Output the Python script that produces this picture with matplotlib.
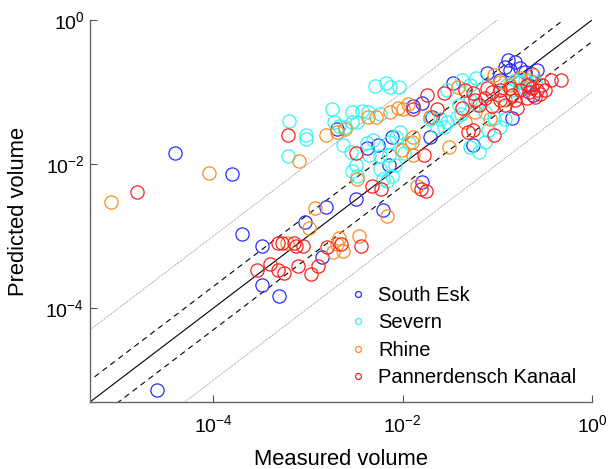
import numpy as np
import matplotlib
matplotlib.use('Agg')
import matplotlib.pyplot as plt
from matplotlib.ticker import FixedLocator, NullLocator

plt.rcParams['font.family'] = ['Liberation Sans', 'DejaVu Sans']
plt.rcParams['mathtext.fontset'] = 'custom'
plt.rcParams['mathtext.rm'] = 'Liberation Sans'
plt.rcParams['mathtext.it'] = 'Liberation Sans:italic'
plt.rcParams['mathtext.bf'] = 'Liberation Sans:bold'

# ---- data: log10 of measured / predicted volume ----
south_esk_log_measured = [-4.40, -3.80, -3.70, -3.48, -3.49, -3.31, -4.59, -3.03, -2.85, -2.81,
                          -2.49, -2.21, -1.79, -2.69, -2.38, -2.26, -2.11, -2.14, -1.71, -1.69,
                          -1.80, -1.89, -1.47, -1.26, -0.85, -1.11, -0.92, -0.87, -0.76, -0.71,
                          -0.63, -0.89, -0.81, -0.58, -0.97, -0.66, -0.62]
south_esk_log_predicted = [-1.85, -2.14, -2.97, -3.14, -3.68, -3.83, -5.13, -2.81, -3.29, -2.60,
                           -2.49, -2.63, -2.25, -1.51, -1.77, -1.73, -1.62, -2.01, -1.62, -1.34,
                           -1.15, -1.20, -0.87, -1.73, -1.36, -0.73, -0.65, -0.69, -0.66, -0.72,
                           -0.75, -0.55, -0.58, -0.69, -0.83, -0.90, -1.04]

severn_log_measured = [-2.29, -2.18, -2.13, -2.04, -3.20, -3.02, -3.02, -3.21, -2.75, -2.72,
                       -2.67, -2.61, -2.53, -2.43, -2.37, -2.53, -2.48, -2.24, -2.63, -2.54,
                       -2.49, -2.53, -2.48, -2.38, -2.31, -2.14, -2.07, -2.35, -2.24, -2.14,
                       -1.98, -1.93, -2.21, -2.17, -2.11, -1.53, -1.37, -1.29, -1.22, -0.76,
                       -0.81, -1.71, -1.61, -1.53, -1.43, -1.56, -1.64, -0.92, -1.03, -1.10,
                       -0.97, -1.29, -1.13, -1.19, -2.08, -2.03, -0.97, -0.90, -0.71, -1.29,
                       -1.21, -1.13, -1.40, -1.38, -2.24, -0.85, -0.71, -0.60]
severn_log_predicted = [-0.91, -0.87, -0.93, -0.93, -1.40, -1.60, -1.65, -1.89, -1.24, -1.42,
                        -1.47, -1.48, -1.27, -1.26, -1.27, -1.42, -1.42, -1.30, -1.74, -1.83,
                        -2.01, -2.10, -2.17, -1.70, -1.66, -1.69, -1.63, -1.87, -1.89, -1.87,
                        -1.84, -1.70, -2.21, -2.24, -2.17, -0.97, -0.83, -0.90, -0.80, -0.86,
                        -0.83, -1.38, -1.38, -1.41, -1.34, -1.49, -1.49, -1.38, -1.36, -1.52,
                        -1.49, -1.76, -1.69, -1.83, -2.01, -1.56, -1.04, -0.90, -0.83, -1.11,
                        -1.18, -1.27, -1.18, -1.31, -2.07, -0.97, -0.94, -0.86]

rhine_log_measured = [-5.08, -4.04, -3.09, -2.81, -2.69, -2.61, -2.37, -2.28, -2.13, -2.05,
                      -2.00, -2.01, -1.90, -1.89, -1.51, -1.85, -2.17, -2.48, -2.92, -2.99,
                      -3.22, -2.67, -2.69, -2.63, -2.73, -2.46, -1.71, -1.89, -1.42, -1.03,
                      -0.62, -0.97, -0.87, -0.76, -1.08, -1.34, -1.24, -0.66, -0.92, -1.94]
rhine_log_predicted = [-2.52, -2.12, -1.96, -1.60, -1.55, -1.51, -1.34, -1.34, -1.27, -1.22,
                       -1.24, -1.80, -1.69, -1.87, -1.76, -2.31, -2.72, -2.21, -2.61, -2.89,
                       -3.10, -3.02, -3.11, -3.20, -3.22, -3.00, -1.34, -1.63, -0.93, -0.76,
                       -0.76, -0.86, -0.90, -0.80, -1.38, -1.41, -1.27, -0.83, -1.11, -1.16]

pannerdensch_log_measured = [-4.80, -3.21, -2.49, -2.32, -2.23, -1.81, -1.75, -3.32, -3.27, -3.15,
                             -3.13, -3.05, -2.80, -2.65, -2.44, -3.54, -3.40, -3.32, -3.25, -3.10,
                             -2.97, -2.89, -1.89, -1.77, -1.64, -1.74, -1.56, -1.34, -1.26, -1.11,
                             -1.06, -0.97, -0.87, -0.84, -0.76, -0.66, -0.58, -0.55, -0.60, -0.43,
                             -0.33, -1.37, -1.19, -1.06, -0.92, -0.79, -1.31, -1.26, -1.03, -0.69,
                             -0.63, -0.50, -0.53, -0.69, -0.97, -0.81, -1.13, -1.24]
pannerdensch_log_predicted = [-2.38, -1.60, -1.85, -2.31, -2.35, -2.35, -2.37, -3.10, -3.10, -3.10,
                              -3.13, -3.14, -3.15, -3.11, -3.13, -3.47, -3.39, -3.47, -3.51, -3.42,
                              -3.53, -3.42, -1.23, -1.87, -1.24, -1.04, -1.01, -0.97, -1.01, -0.94,
                              -1.00, -0.97, -0.94, -1.04, -0.97, -1.00, -0.97, -1.02, -1.07, -0.83,
                              -0.83, -1.22, -1.18, -1.20, -1.18, -1.22, -1.55, -1.52, -1.59, -0.90,
                              -0.94, -0.97, -0.90, -1.08, -1.11, -1.11, -1.08, -1.11]

series_names = ['South Esk', 'Severn', 'Rhine', 'Pannerdensch Kanaal']
series_colors = ['#2b2bff', '#33f5f5', '#ff8c1f', '#ff1f1f']
series_log_x = [south_esk_log_measured, severn_log_measured, rhine_log_measured, pannerdensch_log_measured]
series_log_y = [south_esk_log_predicted, severn_log_predicted, rhine_log_predicted, pannerdensch_log_predicted]

axis_min, axis_max = 5e-6, 1.0
tick_values = [1e-4, 1e-2, 1e0]

fig = plt.figure(figsize=(6.09, 4.69), dpi=100)
ax = fig.add_axes([90/609, 1 - 402/469, (592-90)/609, (402-20)/469])
ax.set_xscale('log')
ax.set_yscale('log')
ax.set_xlim(axis_min, axis_max)
ax.set_ylim(axis_min, axis_max)

# reference lines: 1:1, factor 2, factor 10
ref = np.array([axis_min / 20, axis_max * 20])
ax.plot(ref, ref, color='black', lw=0.8, zorder=1)
for f in (2.0, 0.5):
    ax.plot(ref, ref * f, color='black', lw=0.8, dashes=(5, 4), zorder=1)
for f in (10.0, 0.1):
    ax.plot(ref, ref * f, color='#777777', lw=0.6, dashes=(1, 1.2), zorder=1)

for name, col, lx, ly in zip(series_names, series_colors, series_log_x, series_log_y):
    ax.plot(np.power(10.0, lx), np.power(10.0, ly), linestyle='none', marker='o',
            markersize=9.5, markerfacecolor='none', markeredgecolor=col,
            markeredgewidth=0.9, label=name, zorder=2)

ax.xaxis.set_major_locator(FixedLocator(tick_values))
ax.yaxis.set_major_locator(FixedLocator(tick_values))
ax.xaxis.set_minor_locator(NullLocator())
ax.yaxis.set_minor_locator(NullLocator())
ax.tick_params(which='major', direction='in', length=5, width=0.8, color='#555555',
               labelsize=14)
ax.tick_params(axis='x', pad=9)
ax.tick_params(axis='y', pad=4)
for s in ('top', 'right'):
    ax.spines[s].set_visible(False)
for s in ('left', 'bottom'):
    ax.spines[s].set_color('#666666')
    ax.spines[s].set_linewidth(1.0)

ax.set_xlabel('Measured volume', fontsize=15.8, labelpad=9)
ax.set_ylabel('Predicted volume', fontsize=15.8, labelpad=12)

leg = ax.legend(loc='upper left', bbox_to_anchor=(350/609, 1 - 286/469),
                bbox_transform=fig.transFigure, frameon=False, fontsize=14.5,
                markerscale=0.45, handlelength=0.8, handletextpad=0.6,
                labelspacing=0.42, borderpad=0, borderaxespad=0)

fig.savefig('out.png', dpi=100)
